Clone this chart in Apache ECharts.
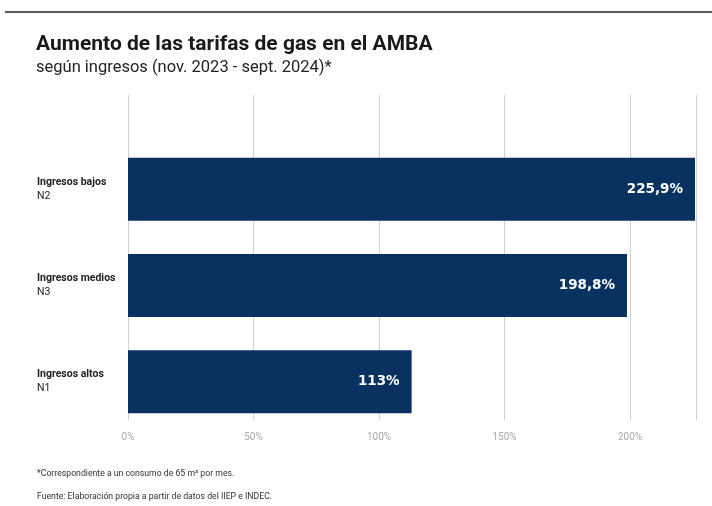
<!DOCTYPE html>
<html><head><meta charset="utf-8">
<script src="https://cdn.jsdelivr.net/npm/echarts@6/dist/echarts.min.js"></script>
<style>html,body{margin:0;padding:0;background:#fff}#c{width:712px;height:506px}</style>
</head><body><div id="c"></div>
<script>
const categories = ['Ingresos bajos', 'Ingresos medios', 'Ingresos altos'];
const levels = ['N2', 'N3', 'N1'];
const values = [225.9, 198.8, 113];
const valueLabels = ['225,9%', '198,8%', '113%'];
const tickValues = [0, 50, 100, 150, 200];

const chart = echarts.init(document.getElementById('c'), null, {renderer: 'canvas'});
const axisMax = 226.5;
chart.setOption({
  animation: false,
  backgroundColor: '#fff',
  title: [
    {text: 'Aumento de las tarifas de gas en el AMBA', left: 31, top: 29,
     textStyle: {fontFamily: 'Roboto', fontWeight: 'bold', fontSize: 21, color: '#1a1a1a'}},
    {text: 'según ingresos (nov. 2023 - sept. 2024)*', left: 31, top: 54,
     textStyle: {fontFamily: 'Roboto', fontWeight: 'normal', fontSize: 16.5, color: '#222'}},
    {text: '*Correspondiente a un consumo de 65 m³ por mes.', left: 32, top: 464,
     textStyle: {fontFamily: 'Roboto', fontWeight: 'normal', fontSize: 8.7, color: '#333'}},
    {text: 'Fuente: Elaboración propia a partir de datos del IIEP e INDEC.', left: 32, top: 487,
     textStyle: {fontFamily: 'Roboto', fontWeight: 'normal', fontSize: 8.7, color: '#333'}}
  ],
  graphic: [
    {type: 'line', shape: {x1: 5, y1: 12, x2: 712, y2: 12}, style: {stroke: '#222', lineWidth: 1.5}}
  ],
  grid: [
    {left: 128, top: 141, width: 568.5, height: 289, containLabel: false},
    {left: 128, top: 95, width: 568.5, height: 325, containLabel: false}
  ],
  xAxis: [
    {gridIndex: 0, type: 'value', min: 0, max: axisMax, interval: 50,
     axisLine: {show: false}, axisTick: {show: false}, axisLabel: {show: false}, splitLine: {show: false}},
    {gridIndex: 1, type: 'value', min: 0, max: axisMax, interval: 50,
     axisLine: {show: false}, axisTick: {show: false},
     splitLine: {show: true, lineStyle: {color: '#d0d0d0', width: 1}},
     axisLabel: {show: true, margin: 12, color: '#a8a8a8', fontFamily: 'Roboto', fontSize: 10,
       showMaxLabel: false, formatter: v => tickValues.includes(v) ? v + '%' : ''}}
  ],
  yAxis: [
    {gridIndex: 0, type: 'category', inverse: true, data: categories,
     axisLine: {show: false}, axisTick: {show: false}, splitLine: {show: false},
     axisLabel: {show: true, align: 'left', margin: 91,
       formatter: (v, i) => '{a|' + v + '}\n{b|' + levels[i] + '}',
       rich: {
         a: {fontFamily: 'Roboto', fontWeight: 'bold', fontSize: 10.5, color: '#222', lineHeight: 14},
         b: {fontFamily: 'Roboto', fontWeight: 'normal', fontSize: 10.5, color: '#222', lineHeight: 14}
       }}},
    {gridIndex: 1, type: 'value', min: 0, max: 1, show: false}
  ],
  series: [{
    type: 'bar', xAxisIndex: 0, yAxisIndex: 0, data: values, barWidth: 63,
    itemStyle: {color: '#0a3261'},
    label: {show: true, position: 'insideRight', distance: 12, color: '#fff',
      fontFamily: 'DejaVu Sans', fontWeight: 'bold', fontSize: 13.5,
      formatter: p => valueLabels[p.dataIndex]}
  }]
});
</script></body></html>
